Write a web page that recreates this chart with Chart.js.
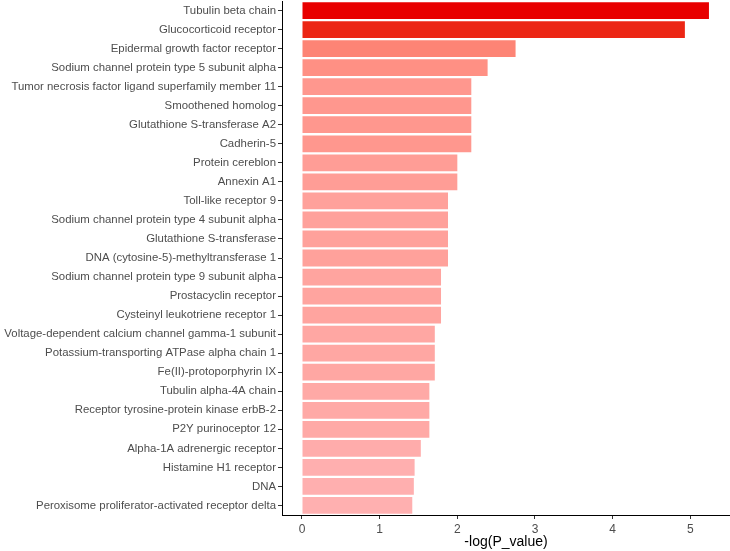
<!DOCTYPE html>
<html>
<head>
<meta charset="utf-8">
<script src="https://cdn.jsdelivr.net/npm/chart.js@4/dist/chart.umd.min.js"></script>
<style>
  html, body { margin: 0; padding: 0; background: #fff; }
</style>
</head>
<body>
<canvas id="chart" width="730" height="551"></canvas>
<script>
const targets = [
  "Tubulin beta chain",
  "Glucocorticoid receptor",
  "Epidermal growth factor receptor",
  "Sodium channel protein type 5 subunit alpha",
  "Tumor necrosis factor ligand superfamily member 11",
  "Smoothened homolog",
  "Glutathione S-transferase A2",
  "Cadherin-5",
  "Protein cereblon",
  "Annexin A1",
  "Toll-like receptor 9",
  "Sodium channel protein type 4 subunit alpha",
  "Glutathione S-transferase",
  "DNA (cytosine-5)-methyltransferase 1",
  "Sodium channel protein type 9 subunit alpha",
  "Prostacyclin receptor",
  "Cysteinyl leukotriene receptor 1",
  "Voltage-dependent calcium channel gamma-1 subunit",
  "Potassium-transporting ATPase alpha chain 1",
  "Fe(II)-protoporphyrin IX",
  "Tubulin alpha-4A chain",
  "Receptor tyrosine-protein kinase erbB-2",
  "P2Y purinoceptor 12",
  "Alpha-1A adrenergic receptor",
  "Histamine H1 receptor",
  "DNA",
  "Peroxisome proliferator-activated receptor delta"
];

const negLogP = [
  5.24, 4.93, 2.75, 2.39, 2.18, 2.18, 2.18, 2.18, 2.00, 2.00,
  1.88, 1.88, 1.88, 1.88, 1.79, 1.79, 1.79, 1.71, 1.71, 1.71,
  1.64, 1.64, 1.64, 1.53, 1.45, 1.44, 1.42
];

const xTicks = [0, 1, 2, 3, 4, 5];

// gradient low -> high, interpolated in Lab like ggplot does
const lowColor = [255, 176, 176];
const highColor = [232, 0, 0];

const toLinear = (c) => {
  c = c / 255;
  return c <= 0.04045 ? c / 12.92 : Math.pow((c + 0.055) / 1.055, 2.4);
};
const fromLinear = (c) => {
  const v = c <= 0.0031308 ? 12.92 * c : 1.055 * Math.pow(c, 1 / 2.4) - 0.055;
  return Math.round(Math.max(0, Math.min(1, v)) * 255);
};
const WHITE = [0.95047, 1.0, 1.08883];
const rgbToLab = (rgb) => {
  const [r, g, b] = rgb.map(toLinear);
  const xyz = [
    0.4124 * r + 0.3576 * g + 0.1805 * b,
    0.2126 * r + 0.7152 * g + 0.0722 * b,
    0.0193 * r + 0.1192 * g + 0.9505 * b
  ];
  const f = xyz.map((v, i) => {
    const t = v / WHITE[i];
    return t > 0.008856 ? Math.cbrt(t) : 7.787 * t + 16 / 116;
  });
  return [116 * f[1] - 16, 500 * (f[0] - f[1]), 200 * (f[1] - f[2])];
};
const labToRgb = (lab) => {
  const fy = (lab[0] + 16) / 116;
  const fx = fy + lab[1] / 500;
  const fz = fy - lab[2] / 200;
  const [x, y, z] = [fx, fy, fz].map((f, i) => {
    const t = f * f * f > 0.008856 ? f * f * f : (f - 16 / 116) / 7.787;
    return t * WHITE[i];
  });
  const r = 3.2406 * x - 1.5372 * y - 0.4986 * z;
  const g = -0.9689 * x + 1.8758 * y + 0.0415 * z;
  const b = 0.0557 * x - 0.204 * y + 1.057 * z;
  return [fromLinear(r), fromLinear(g), fromLinear(b)];
};

const lowLab = rgbToLab(lowColor);
const highLab = rgbToLab(highColor);
const vMin = Math.min(...negLogP);
const vMax = Math.max(...negLogP);

const fillFor = (v) => {
  const t = (v - vMin) / (vMax - vMin);
  const lab = lowLab.map((l, i) => l + (highLab[i] - l) * t);
  const [r, g, b] = labToRgb(lab);
  return `rgb(${r},${g},${b})`;
};

const FONT = "Liberation Sans, Arial, sans-serif";

const config = {
  type: "bar",
  data: {
    labels: targets,
    datasets: [
      {
        data: negLogP,
        backgroundColor: negLogP.map(fillFor),
        borderWidth: 0,
        barPercentage: 0.88,
        categoryPercentage: 1.0
      }
    ]
  },
  options: {
    indexAxis: "y",
    responsive: false,
    animation: false,
    layout: {
      padding: { top: 1, right: 0, bottom: 0, left: 0 }
    },
    plugins: {
      legend: { display: false },
      tooltip: { enabled: false }
    },
    scales: {
      x: {
        type: "linear",
        min: -0.2575,
        max: 5.511,
        afterBuildTicks: (scale) => {
          scale.ticks = xTicks.map((v) => ({ value: v }));
        },
        afterFit: (scale) => {
          scale.height = 36;
        },
        grid: {
          drawOnChartArea: false,
          drawTicks: true,
          tickLength: 4,
          color: "#333333"
        },
        border: { display: true, color: "#000000", width: 1 },
        ticks: {
          color: "#4D4D4D",
          padding: 3,
          font: { family: FONT, size: 12 }
        },
        title: {
          display: true,
          text: "-log(P_value)",
          color: "#000000",
          padding: { top: 0, bottom: 0 },
          font: { family: FONT, size: 14 }
        }
      },
      y: {
        type: "category",
        offset: true,
        afterFit: (scale) => {
          scale.width = 282;
          scale.paddingTop = 0;
          scale.paddingBottom = 0;
        },
        grid: {
          drawOnChartArea: false,
          drawTicks: true,
          tickLength: 4,
          color: "#333333",
          offset: false
        },
        border: { display: true, color: "#000000", width: 1 },
        ticks: {
          color: "#4D4D4D",
          padding: 2,
          autoSkip: false,
          font: { family: FONT, size: 11.4 }
        }
      }
    }
  }
};

new Chart(document.getElementById("chart").getContext("2d"), config);
</script>
</body>
</html>
